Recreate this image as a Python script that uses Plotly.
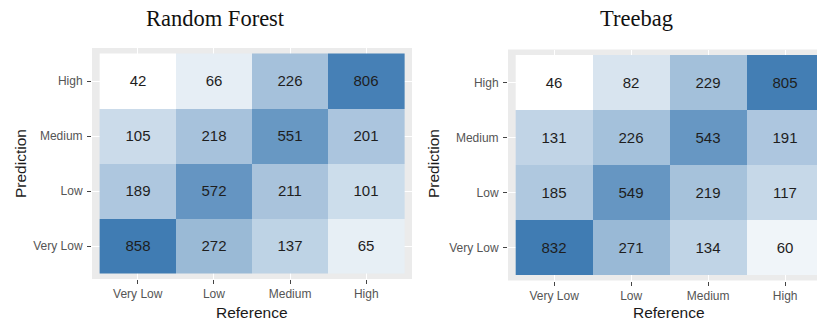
import plotly.graph_objects as go
import numpy as np

categories = ["Very Low", "Low", "Medium", "High"]  # reference (x) and prediction (y), bottom to top

# rows = prediction (Very Low, Low, Medium, High); cols = reference
rf_values = [
    [858, 272, 137, 65],
    [189, 572, 211, 101],
    [105, 218, 551, 201],
    [42, 66, 226, 806],
]
tb_values = [
    [832, 271, 134, 60],
    [185, 549, 219, 117],
    [131, 226, 543, 191],
    [46, 82, 229, 805],
]
titles = ["Random Forest", "Treebag"]

W, H = 817, 324
hi = np.array([64, 124, 179])
lo = np.array([255, 255, 255])
stops = np.linspace(0, 1, 21)
colorscale = []
for s in stops:
    c = lo + np.sqrt(s) * (hi - lo)
    colorscale.append([float(s), "rgb(%d,%d,%d)" % tuple(np.round(c).astype(int))])

fig = go.Figure()
idx = list(range(len(categories)))
for i, vals in enumerate([rf_values, tb_values]):
    z = np.array(vals)
    fig.add_trace(go.Heatmap(
        z=z, x=idx, y=idx,
        colorscale=colorscale, zmin=z.min(), zmax=z.max(),
        showscale=False, hoverinfo="skip",
        texttemplate="%{z}", textfont=dict(size=15, color="#1e1e1e", family="Arial"),
        xaxis="x" if i == 0 else "x2", yaxis="y" if i == 0 else "y2",
    ))

axis_common = dict(
    tickvals=idx, ticktext=categories, ticks="outside", ticklen=4, tickwidth=1,
    tickcolor="#444", tickfont=dict(size=12, color="#555", family="Arial"),
    showgrid=True, gridcolor="white", gridwidth=1.2, zeroline=False,
    showline=False, fixedrange=True,
)

fig.update_layout(
    width=W, height=H, margin=dict(l=0, r=0, t=0, b=0),
    paper_bgcolor="white", plot_bgcolor="#EBEBEB",
    xaxis=dict(domain=[92 / W, 412 / W], range=[-0.6, 3.6], anchor="y", **axis_common),
    yaxis=dict(domain=[1 - 279 / H, 1 - 48 / H], range=[-0.6, 3.6], anchor="x",
               ticklabelstandoff=2, **axis_common),
    xaxis2=dict(domain=[508 / W, 1.0], range=[-0.6, 3.413], anchor="y2", **axis_common),
    yaxis2=dict(domain=[1 - 280.5 / H, 1 - 49.5 / H], range=[-0.6, 3.6], anchor="x2",
                ticklabelstandoff=2, **axis_common),
)

ann = []
title_x = [215, 636]
pred_x = [20, 433]
ref_x = [252, 669]
for i in range(2):
    ann.append(dict(text=titles[i], x=title_x[i] / W, y=1 - 18 / H, xref="paper", yref="paper",
                    showarrow=False, xanchor="center", yanchor="middle",
                    font=dict(family="Liberation Serif", size=22.5, color="#111")))
    ann.append(dict(text="Prediction", x=pred_x[i] / W, y=1 - 164 / H, xref="paper", yref="paper",
                    showarrow=False, xanchor="center", yanchor="middle", textangle=-90,
                    font=dict(family="Arial", size=15.5, color="#1a1a1a")))
    ann.append(dict(text="Reference", x=ref_x[i] / W, y=1 - 312 / H, xref="paper", yref="paper",
                    showarrow=False, xanchor="center", yanchor="middle",
                    font=dict(family="Arial", size=15.5, color="#1a1a1a")))
fig.update_layout(annotations=ann)

fig.write_html("out.html")
